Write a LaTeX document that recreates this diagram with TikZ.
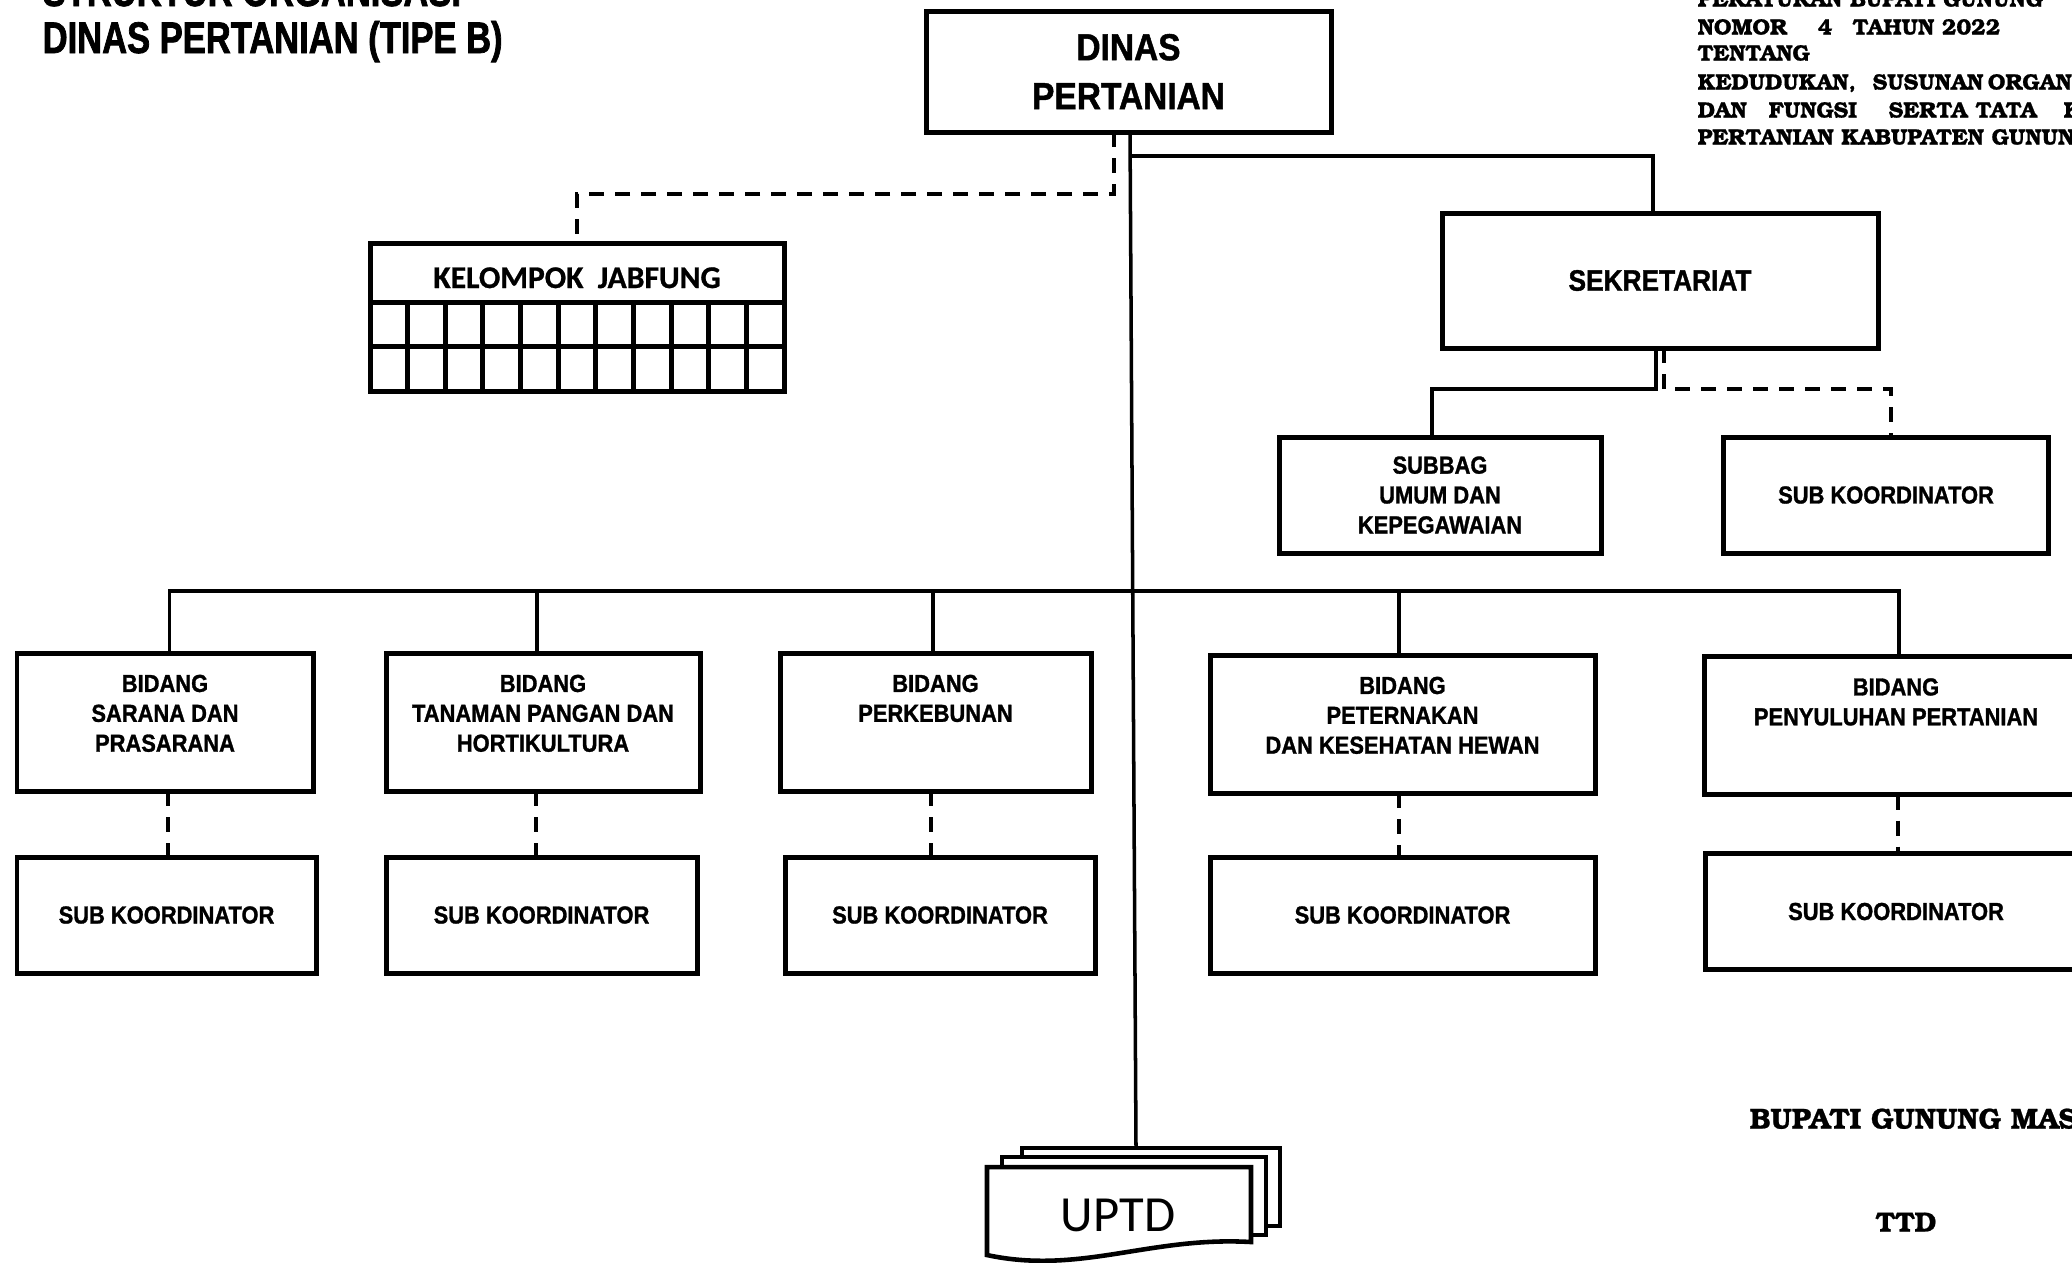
\documentclass[tikz,border=0pt]{standalone}
\usepackage{fontspec}
\setmainfont{Liberation Sans}
\newfontfamily\narrowfont[FakeStretch=0.89, FakeBold=1.2]{Liberation Sans}
\newfontfamily\titlefont[FakeStretch=0.78, FakeBold=1.6]{Liberation Sans}
\newfontfamily\calibrifont{Carlito}
\newfontfamily\calibribold[FakeBold=0.8]{Carlito Bold}
\newfontfamily\perbupfont[FakeBold=0.8]{TeX Gyre Bonum}
\usetikzlibrary{calc, positioning}
\newcommand{\bidtext}[1]{\vbox to 10.2mm{\hbox{\begin{tabular}{@{}c@{}}#1\end{tabular}}\vss}}
\tikzset{
    orgbox/.style={draw, line width=1.42pt, fill=white, inner sep=0pt, outer sep=0pt, align=center, font=\narrowfont\bfseries\fontsize{7}{8.5}\selectfont},
    bidbox/.style={orgbox, minimum height=13.8mm},
    subbox/.style={orgbox, minimum height=11.6mm},
    orgline/.style={line width=1pt},
    orgdash/.style={line width=1.15pt, dash pattern=on 1.5mm off 1.1mm},
    orgsheet/.style={draw, line width=1.3pt, fill=white, inner sep=0pt, outer sep=0pt},
    heading/.style={anchor=base west, inner sep=0pt, font=\titlefont\bfseries\fontsize{12.6}{15}\selectfont},
    perbup/.style={anchor=base west, inner sep=0pt, font=\perbupfont\bfseries\fontsize{6.3}{8}\selectfont}
}

\begin{document}
\begin{tikzpicture}[x=0.1mm, y=-0.1mm]
    \useasboundingbox (0,0) rectangle (2072,1262);

    % heading
    \node[heading] (title1) at (42,6) {STRUKTUR ORGANISASI};
    \node[heading] (title2) at (42,53) {DINAS PERTANIAN (TIPE B)};

    % peraturan bupati
    \node[perbup] (perbup1) at (1697,6.5) {PERATURAN BUPATI GUNUNG};
    \node[perbup] (perbup2) at (1697,34.5) {\makebox[12mm][l]{NOMOR}\makebox[3.5mm][l]{4}TAHUN 2022};
    \node[perbup] (perbup3) at (1697,60.5) {TENTANG};
    \node[perbup] (perbup4) at (1697,89.5) {\makebox[17.5mm][l]{KEDUDUKAN,}\makebox[11.5mm][l]{SUSUNAN}ORGANISASI,};
    \node[perbup] (perbup5) at (1697,117.5) {\makebox[7.1mm][l]{DAN}\makebox[12mm][l]{FUNGSI}\makebox[8.7mm][l]{SERTA}\makebox[8.8mm][l]{TATA}KERJA};
    \node[perbup] (perbup6) at (1697,144.5) {PERTANIAN KABUPATEN GUNUNG};

    % kepala dinas
    \node[orgbox, minimum width=40.5mm, minimum height=12.1mm, font=\narrowfont\bfseries\fontsize{10.7}{13.9}\selectfont] (dinas) at (1128.5,71.5) {DINAS\\PERTANIAN};

    % kelompok jabatan fungsional
    \node[orgbox, minimum width=41.4mm, minimum height=5.9mm, font=\calibribold\fontsize{9}{10.5}\selectfont, text height=3.1mm, text depth=0pt] (jabfung) at (577,272.5) {KELOMPOK\ \ JABFUNG};
    \foreach \c in {0,...,10}
        \foreach \r in {0,1}
            \draw[line width=1.42pt] ($(jabfung.south west)+(\c*37.64,\r*44.5)$) rectangle +(37.64,44.5);

    % sekretariat
    \node[orgbox, minimum width=43.6mm, minimum height=13.5mm, font=\narrowfont\bfseries\fontsize{8.4}{10}\selectfont] (sekre) at (1660,280.5) {SEKRETARIAT};
    \node[orgbox, minimum width=32.2mm, minimum height=11.6mm] (subbag) at (1440,495) {SUBBAG\\UMUM DAN\\KEPEGAWAIAN};
    \node[orgbox, minimum width=32.5mm, minimum height=11.6mm] (koorsek) at (1886,495) {SUB KOORDINATOR};

    % bidang
    \node[bidbox, minimum width=29.6mm] (sarana) at (165,722) {\bidtext{BIDANG\\SARANA DAN\\PRASARANA}};
    \node[bidbox, minimum width=31.4mm] (pangan) at (543,722) {\bidtext{BIDANG\\TANAMAN PANGAN DAN\\HORTIKULTURA}};
    \node[bidbox, minimum width=31.1mm] (kebun) at (935.5,722) {\bidtext{BIDANG\\PERKEBUNAN}};
    \node[bidbox, minimum width=38.5mm] (ternak) at (1402.5,724) {\bidtext{BIDANG\\PETERNAKAN\\DAN KESEHATAN HEWAN}};
    \node[bidbox, minimum width=38.4mm] (suluh) at (1896,725.5) {\bidtext{BIDANG\\PENYULUHAN PERTANIAN}};

    % sub koordinator
    \node[subbox, minimum width=29.9mm] (koorsar) at (166.5,915) {SUB KOORDINATOR};
    \node[subbox, minimum width=31.1mm] (koorpan) at (541.5,915) {SUB KOORDINATOR};
    \node[subbox, minimum width=31mm] (koorkeb) at (940,915) {SUB KOORDINATOR};
    \node[subbox, minimum width=38.5mm] (koorter) at (1402.5,915) {SUB KOORDINATOR};
    \node[subbox, minimum width=38.2mm] (koorsul) at (1896,911.5) {SUB KOORDINATOR};

    % uptd
    \node[orgsheet, minimum width=25.8mm, minimum height=7.8mm] (uptd3) at (1151,1187) {};
    \node[orgsheet, minimum width=26.4mm, minimum height=7.8mm] (uptd2) at (1134,1196) {};
    \draw[orgsheet] (987,1167) -- (1251,1167) -- (1251,1242) .. controls (1150,1236) and (1080,1275) .. (987,1255) -- cycle;
    \node[inner sep=0pt, font=\calibrifont\fontsize{14.4}{17}\selectfont] (uptd) at (1118,1215) {UPTD};

    % garis komando
    \draw[orgline] ([xshift=0.15mm]dinas.south) -- ([xshift=-1.5mm]uptd3.north);
    \draw[orgline] ([xshift=0.15mm,yshift=-2.4mm]dinas.south) -| ([xshift=-0.7mm]sekre.north);
    \coordinate (bus) at (0,591);
    \draw[orgline] ([xshift=0.45mm]sarana.north) -- ([xshift=0.45mm]sarana.north |- bus) -| ([xshift=0.3mm]suluh.north);
    \foreach \b/\s in {pangan/-0.6mm, kebun/-0.25mm, ternak/-0.35mm}
        \draw[orgline] ([xshift=\s]\b.north) -- ([xshift=\s]\b.north |- bus);
    \draw[orgline] ([xshift=-0.4mm]sekre.south) -- ++(0,41) -| ([xshift=-0.8mm]subbag.north);

    % garis koordinasi
    \draw[orgdash] ([xshift=-1.45mm]dinas.south) -- ++(0,62) -| (jabfung.north);
    \draw[orgdash] ([xshift=0.4mm]sekre.south) -- ++(0,41) -| ([xshift=0.5mm]koorsek.north);
    \foreach \b/\k/\s in {sarana/koorsar/0.3mm, pangan/koorpan/-0.7mm, kebun/koorkeb/-0.45mm, ternak/koorter/-0.35mm, suluh/koorsul/0.2mm}
        \draw[orgdash] ([xshift=\s]\b.south) -- ([xshift=\s]\b.south |- \k.north);

    % pengesahan
    \node[anchor=base west, inner sep=0pt, font=\perbupfont\bfseries\fontsize{8.2}{9.5}\selectfont] (bupati) at (1749,1128.5) {BUPATI GUNUNG MAS};
    \node[anchor=base west, inner sep=0pt, font=\perbupfont\bfseries\fontsize{7.9}{9.5}\selectfont] (ttd) at (1875,1231.5) {TTD};
\end{tikzpicture}
\end{document}
